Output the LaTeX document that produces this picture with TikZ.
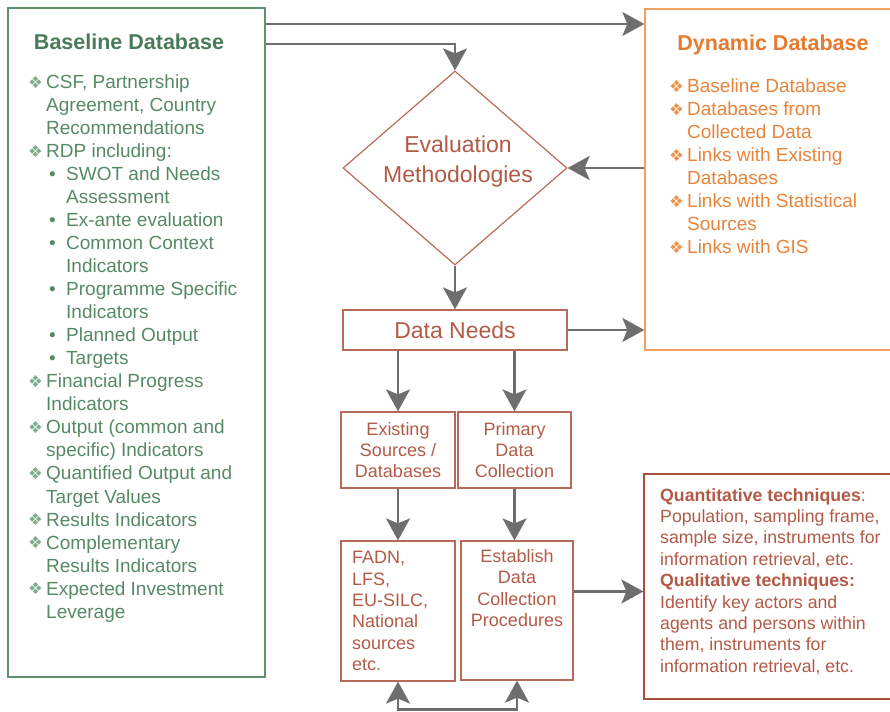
\documentclass[tikz,border=0pt]{standalone}
\usepackage{fontspec}
\setmainfont{Liberation Sans}
\newfontfamily\symfont{DejaVu Sans}
\usetikzlibrary{shapes.geometric,arrows.meta}
\definecolor{gdark}{HTML}{4A7A58}
\definecolor{gtext}{HTML}{568A64}
\definecolor{gbul}{HTML}{7FAE8A}
\definecolor{gline}{HTML}{5F9170}
\definecolor{otext}{HTML}{E8843A}
\definecolor{otitle}{HTML}{E67A2E}
\definecolor{obul}{HTML}{EC9450}
\definecolor{oline}{HTML}{F0A060}
\definecolor{rtext}{HTML}{B35A46}
\definecolor{rline}{HTML}{B86A58}
\definecolor{rdark}{HTML}{A8503E}
\definecolor{arrgray}{HTML}{6E6E6E}
\newcommand{\gdia}{\makebox[18pt][l]{\raisebox{0.5pt}{\symfont\fontsize{16.5}{17}\selectfont\color{gbul}❖}}}
\newcommand{\odia}{\makebox[18pt][l]{\raisebox{0.5pt}{\symfont\fontsize{16.5}{17}\selectfont\color{obul}❖}}}
\newcommand{\subi}{\hspace*{3pt}\makebox[17pt][l]{\textbullet}}
\newcommand{\subc}{\hspace*{20pt}}
\begin{document}
\begin{tikzpicture}[x=1pt,y=-1pt,
  greenbox/.style={draw=gline,line width=1.3pt},
  orangebox/.style={draw=oline,line width=1.3pt},
  redbox/.style={draw=rline,line width=1.2pt,text=rtext,inner sep=0pt,align=center,font=\fontsize{18}{21}\selectfont},
  arr/.style={draw=arrgray,line width=2.5pt,-{Stealth[length=22pt,width=24pt,inset=5pt]}},
  twoarr/.style={draw=arrgray,line width=2.5pt,{Stealth[length=22pt,width=24pt,inset=5pt]}-{Stealth[length=22pt,width=24pt,inset=5pt]}}]
\useasboundingbox (0,0) rectangle (890,711);
\clip (0,0) rectangle (890,711);
\node[greenbox,minimum width=257pt,minimum height=669pt] (base) at (136.5,342.5) {};
\node[orangebox,minimum width=260pt,minimum height=341pt] (dyn) at (775,179.5) {};
\node[diamond,draw=rline,line width=1.2pt,minimum width=224pt,minimum height=194pt,inner sep=0pt] (eval) at (455,168) {};
\node[redbox,minimum width=224pt,minimum height=40pt,font=\fontsize{23}{28}\selectfont] (needs) at (455,330) {Data Needs};
\node[redbox,minimum width=114pt,minimum height=76pt] (exist) at (398,450) {Existing\\Sources /\\Databases};
\node[redbox,minimum width=113pt,minimum height=76pt] (prim) at (514.5,450) {Primary\\Data\\Collection};
\node[redbox,minimum width=114pt,minimum height=140pt] (fadn) at (398,611) {};
\node[redbox,minimum width=112pt,minimum height=139pt] (estab) at (517,610.5) {};
\node[redbox,draw=rdark,minimum width=261pt,minimum height=225pt] (tech) at (774.5,586.5) {};
\node[text=gdark,font=\bfseries\fontsize{21.5}{24}\selectfont,anchor=base,inner sep=0pt] (basetitle) at (129,50) {Baseline Database};
\node[text=gtext,font=\fontsize{19}{23}\selectfont,anchor=base west,inner sep=0pt] (baselist) at (28,89) {\begin{tabular}[t]{@{}l@{}l@{}}
\gdia & CSF, Partnership\\
 & Agreement, Country\\
 & Recommendations\\
\gdia & RDP including:\\
 & \subi SWOT and Needs\\
 & \subc Assessment\\
 & \subi Ex-ante evaluation\\
 & \subi Common Context\\
 & \subc Indicators\\
 & \subi Programme Specific\\
 & \subc Indicators\\
 & \subi Planned Output\\
 & \subi Targets\\
\gdia & Financial Progress\\
 & Indicators\\
\gdia & Output (common and\\
 & specific) Indicators\\
\gdia & Quantified Output and\\
 & Target Values\\
\gdia & Results Indicators\\
\gdia & Complementary\\
 & Results Indicators\\
\gdia & Expected Investment\\
 & Leverage
\end{tabular}};
\node[text=otitle,font=\bfseries\fontsize{21.5}{24}\selectfont,anchor=base,inner sep=0pt] (dyntitle) at (773,50.7) {Dynamic Database};
\node[text=otext,font=\fontsize{19}{23}\selectfont,anchor=base west,inner sep=0pt] (dynlist) at (669,93) {\begin{tabular}[t]{@{}l@{}l@{}}
\odia & Baseline Database\\
\odia & Databases from\\
 & Collected Data\\
\odia & Links with Existing\\
 & Databases\\
\odia & Links with Statistical\\
 & Sources\\
\odia & Links with GIS
\end{tabular}};
\node[text=rtext,font=\fontsize{23}{30}\selectfont,align=center,inner sep=0pt] (evaltxt) at (458,162) {Evaluation\\Methodologies};
\node[text=rtext,font=\fontsize{18}{21.4}\selectfont,align=left,anchor=west,inner sep=0pt] (fadntxt) at (352,611) {FADN,\\LFS,\\EU-SILC,\\National\\sources\\etc.};
\node[text=rtext,font=\fontsize{18}{21.4}\selectfont,align=center,anchor=north,inner sep=0pt] (estabtxt) at (517,549) {Establish\\Data\\Collection\\Procedures};
\node[text=rtext,font=\fontsize{17.7}{21.4}\selectfont,align=left,anchor=north west,inner sep=0pt] (techtxt) at (660,488) {\textbf{Quantitative techniques}:\\Population, sampling frame,\\sample size, instruments for\\information retrieval, etc.\\\textbf{Qualitative techniques:}\\Identify key actors and\\agents and persons within\\them, instruments for\\information retrieval, etc.};
\coordinate (toprow) at (455,24);
\coordinate (bend) at (455,44);
\draw[arr] (base.east |- toprow) -- (dyn.west |- toprow);
\draw[arr] (base.east |- bend) -- (bend) -- (eval.north);
\draw[arr] (eval.east -| dyn.west) -- (eval.east);
\draw[arr] (eval.south) -- (needs.north);
\draw[arr] (needs.east) -- (needs.east -| dyn.west);
\draw[arr] (exist |- needs.south) -- (exist.north);
\draw[arr] (prim |- needs.south) -- (prim.north);
\draw[arr] (exist.south) -- (fadn.north);
\draw[arr] (prim.south) -- (prim.south |- estab.north);
\draw[arr] ([yshift=-5pt]tech.west -| estab.east) -- ([yshift=-5pt]tech.west);
\draw[twoarr] (fadn.south) -- ++(0,28) -| (estab.south);
\end{tikzpicture}
\end{document}
